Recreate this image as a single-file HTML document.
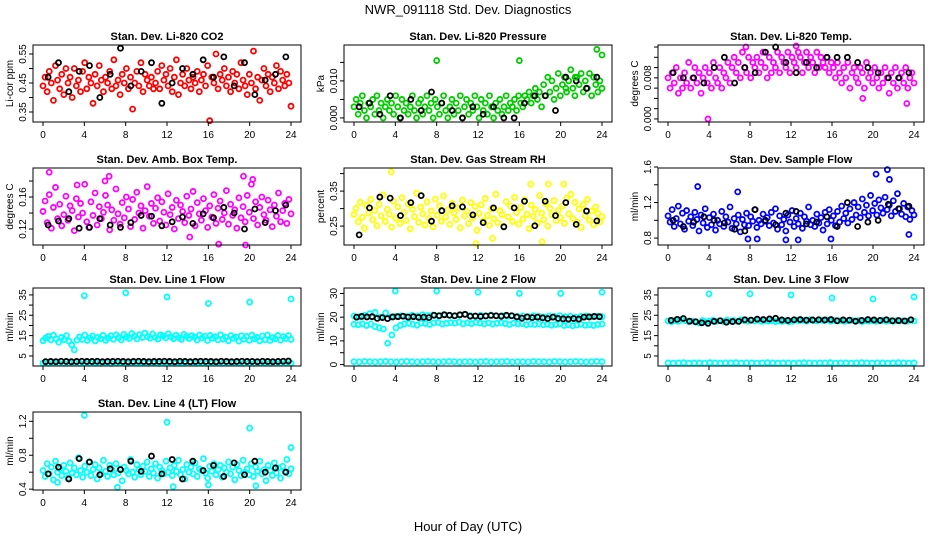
<!DOCTYPE html>
<html><head><meta charset="utf-8"><style>
body{margin:0;background:#fff}
svg{font-family:"Liberation Sans",sans-serif}
</style></head><body>
<svg id="c" width="936" height="540">
<text x="468" y="14" text-anchor="middle" font-size="13">NWR_091118  Std. Dev. Diagnostics</text>
<text x="468" y="531" text-anchor="middle" font-size="13">Hour of Day (UTC)</text>
</svg>
<script>
const xTicks=[0,4,8,12,16,20,24];
const co2=[0.44,0.47,0.42,0.49,0.45,0.39,0.51,0.46,0.43,0.48,0.41,0.50,0.45,0.47,0.40,0.50,0.44,0.46,0.42,0.49,
0.52,0.43,0.47,0.45,0.38,0.48,0.44,0.51,0.46,0.42,0.47,0.45,0.49,0.43,0.53,0.44,0.46,0.41,0.48,0.45,
0.50,0.43,0.47,0.36,0.45,0.49,0.44,0.52,0.42,0.48,0.46,0.44,0.47,0.43,0.45,0.49,0.43,0.51,0.46,0.48,
0.44,0.50,0.42,0.47,0.53,0.41,0.45,0.48,0.44,0.50,0.46,0.43,0.47,0.45,0.49,0.42,0.46,0.48,0.44,0.51,
0.32,0.47,0.45,0.55,0.43,0.48,0.46,0.50,0.44,0.47,0.42,0.49,0.45,0.48,0.43,0.52,0.46,0.44,0.41,0.48,
0.45,0.56,0.43,0.47,0.39,0.46,0.50,0.44,0.48,0.42,0.47,0.45,0.51,0.43,0.49,0.46,0.44,0.48,0.45,0.37];
const co2B=[0.47,0.52,0.42,0.49,0.51,0.40,0.48,0.57,0.44,0.49,0.52,0.38,0.45,0.50,0.48,0.53,0.47,0.54,0.44,0.52,0.41,0.46,0.48,0.54];
const pres=[0.003,0.005,0.001,0.004,0.006,0.002,0.000,0.004,0.003,0.005,0.001,0.006,0.002,0.004,0.000,0.003,0.005,0.002,0.004,0.001,
0.006,0.003,0.000,0.005,0.002,0.004,0.001,0.003,0.006,0.002,0.000,0.004,0.005,0.001,0.003,0.006,0.002,0.004,0.000,0.005,
0.003,0.001,0.004,0.006,0.002,0.000,0.003,0.005,0.001,0.004,0.002,0.006,0.000,0.003,0.005,0.001,0.004,0.002,0.006,0.003,
0.000,0.005,0.002,0.004,0.001,0.006,0.003,0.000,0.004,0.002,0.005,0.001,0.003,0.006,0.002,0.004,0.003,0.005,0.002,0.006,
0.004,0.003,0.006,0.005,0.007,0.004,0.006,0.008,0.005,0.007,0.003,0.009,0.006,0.011,0.007,0.010,0.005,0.008,0.012,0.006,
0.009,0.011,0.007,0.010,0.013,0.008,0.006,0.011,0.009,0.012,0.007,0.010,0.008,0.012,0.006,0.011,0.009,0.007,0.010,0.008];
const presB=[0.003,0.004,0.001,0.006,0.000,0.005,0.002,0.007,0.004,0.002,0.000,0.003,0.001,0.003,0.000,0.000,0.004,0.006,0.006,0.002,0.011,0.010,0.008,0.011];
const temp=[0.008,0.006,0.009,0.007,0.010,0.005,0.008,0.006,0.009,0.007,0.011,0.006,0.008,0.010,0.007,0.009,0.005,0.008,0.010,0.007,
0.009,0.006,0.011,0.008,0.007,0.010,0.006,0.009,0.008,0.011,0.007,0.010,0.012,0.009,0.011,0.008,0.013,0.010,0.009,0.012,
0.008,0.011,0.010,0.012,0.009,0.011,0.013,0.010,0.008,0.012,0.009,0.011,0.010,0.013,0.009,0.012,0.011,0.010,0.013,0.009,
0.012,0.011,0.010,0.013,0.012,0.009,0.011,0.013,0.010,0.012,0.011,0.009,0.013,0.010,0.012,0.011,0.010,0.012,0.009,0.011,
0.010,0.008,0.011,0.009,0.007,0.010,0.008,0.011,0.006,0.009,0.010,0.008,0.007,0.010,0.009,0.006,0.011,0.008,0.009,0.007,
0.010,0.008,0.006,0.009,0.007,0.010,0.008,0.005,0.009,0.007,0.010,0.006,0.008,0.009,0.007,0.010,0.006,0.008,0.009,0.007];
const tempB=[0.009,0.008,0.008,0.007,0.010,0.012,0.007,0.010,0.009,0.013,0.014,0.011,0.009,0.011,0.010,0.012,0.012,0.012,0.011,0.010,0.009,0.008,0.008,0.009];
const amb=[0.142,0.155,0.128,0.163,0.121,0.147,0.172,0.133,0.151,0.124,0.138,0.161,0.131,0.149,0.143,0.118,0.158,0.135,0.152,0.140,
0.176,0.129,0.122,0.154,0.137,0.165,0.125,0.148,0.133,0.141,0.162,0.150,0.119,0.144,0.131,0.170,0.139,0.126,0.153,0.134,
0.160,0.145,0.123,0.157,0.132,0.166,0.140,0.149,0.121,0.143,0.173,0.136,0.152,0.127,0.146,0.159,0.130,0.154,0.141,0.125,
0.164,0.138,0.147,0.120,0.156,0.133,0.150,0.142,0.128,0.161,0.137,0.145,0.167,0.124,0.153,0.139,0.131,0.158,0.143,0.122,
0.149,0.135,0.163,0.127,0.146,0.155,0.132,0.140,0.168,0.126,0.151,0.137,0.144,0.121,0.159,0.134,0.148,0.129,0.162,0.141,
0.176,0.133,0.154,0.125,0.147,0.160,0.138,0.131,0.156,0.144,0.123,0.150,0.136,0.165,0.129,0.143,0.152,0.127,0.157,0.139];
const ambB=[0.125,0.130,0.133,0.121,0.122,0.133,0.125,0.122,0.128,0.137,0.136,0.124,0.129,0.135,0.127,0.139,0.134,0.147,0.140,0.120,0.145,0.128,0.143,0.150];
const rh=[0.283,0.301,0.262,0.318,0.275,0.244,0.309,0.287,0.326,0.268,0.295,0.251,0.312,0.279,0.339,0.263,0.297,0.284,0.247,0.321,
0.273,0.305,0.258,0.331,0.289,0.266,0.313,0.242,0.298,0.277,0.344,0.261,0.304,0.285,0.253,0.319,0.272,0.293,0.248,0.327,
0.281,0.308,0.264,0.336,0.276,0.296,0.255,0.315,0.288,0.269,0.302,0.245,0.324,0.279,0.292,0.257,0.317,0.274,0.306,0.238,
0.286,0.311,0.265,0.329,0.280,0.252,0.299,0.271,0.341,0.260,0.294,0.283,0.249,0.320,0.276,0.307,0.263,0.332,0.289,0.256,
0.303,0.270,0.325,0.284,0.243,0.310,0.278,0.297,0.259,0.337,0.287,0.268,0.314,0.250,0.301,0.282,0.323,0.266,0.295,0.274,
0.308,0.258,0.330,0.285,0.341,0.272,0.318,0.262,0.299,0.246,0.312,0.280,0.326,0.267,0.293,0.254,0.305,0.286,0.262,0.277];
const rhB=[0.225,0.302,0.333,0.330,0.280,0.317,0.337,0.264,0.294,0.308,0.305,0.282,0.260,0.302,0.248,0.302,0.321,0.251,0.321,0.280,0.317,0.255,0.293,0.265];
const flow=[1.05,0.98,1.12,0.93,1.02,1.16,0.96,1.08,0.90,1.11,0.99,1.04,0.94,1.09,1.01,0.88,1.06,0.97,1.13,0.92,
1.03,0.95,1.07,0.89,1.00,0.96,1.10,0.93,1.04,0.98,1.15,0.91,1.02,0.96,1.06,0.87,1.01,0.95,1.08,0.94,
1.04,0.99,1.12,0.92,1.00,0.96,1.07,0.99,1.03,0.94,1.09,0.97,1.13,0.90,1.05,0.95,1.01,0.88,1.06,0.98,
1.11,0.93,1.02,0.96,1.08,0.91,1.04,0.99,1.15,0.95,1.00,0.93,1.07,0.97,1.03,0.89,1.09,0.96,1.12,1.00,
1.05,0.94,1.10,0.98,1.16,1.02,1.08,0.97,1.13,1.01,1.20,1.06,1.15,1.03,1.24,1.09,1.17,1.05,1.28,1.11,
1.19,1.06,1.23,1.14,1.08,1.26,1.12,1.17,1.05,1.22,1.10,1.30,1.13,1.07,1.19,1.04,1.15,1.01,1.11,1.06];
const flowB=[1.00,0.93,0.98,1.04,1.00,0.97,0.90,0.88,1.12,1.00,0.95,1.08,1.10,0.96,0.98,1.04,0.93,1.20,0.93,0.98,1.00,1.18,1.13,1.16];
const l1=[12.5,13.8,14.6,12.9,15.2,13.4,11.8,14.1,13.0,15.0,12.2,10.5,8.0,12.8,14.4,13.1,15.3,12.6,13.9,14.8,
12.4,14.2,13.5,15.1,12.7,13.8,14.9,13.2,15.4,14.0,12.9,15.6,14.3,13.6,16.0,14.7,13.4,15.5,14.1,16.2,
14.5,13.7,15.8,14.2,13.3,15.4,14.8,13.9,15.9,14.4,13.5,15.2,14.0,13.1,15.6,14.6,13.6,15.0,14.3,12.8,
15.3,13.9,14.7,12.6,15.1,13.8,14.5,12.9,15.4,13.3,14.2,12.5,15.0,13.7,14.4,12.3,14.9,13.2,14.6,12.7,
15.2,13.5,14.1,12.4,14.8,13.0,15.3,12.6,14.0,13.4,15.1,12.8,14.5,13.6,15.0,13.1];
const l1Lo=[1.5,1.4,1.6,1.5,1.3,1.5,1.6,1.4,1.5,1.5,1.6,1.4,1.5,1.3,1.5,1.6,1.4,1.5,1.5,1.6,1.4,1.5,1.3,1.5,
1.6,1.4,1.5,1.5,1.6,1.4,1.5,1.3,1.5,1.6,1.4,1.5,1.5,1.6,1.4,1.5,1.3,1.5,1.6,1.4,1.5,1.5,1.6,1.4];
const l1B=[2.2,2.3,2.2,2.4,2.3,2.2,2.3,2.4,2.3,2.3,2.4,2.2,2.3,2.3,2.4,2.3,2.2,2.3,2.4,2.3,2.2,2.3,2.3,2.4,
2.3,2.2,2.4,2.3,2.2,2.3,2.4,2.3,2.3,2.2,2.4,2.3,2.2,2.3,2.4,2.3,2.3,2.2,2.4,2.3,2.2,2.3,2.4,2.5];
const outHr=[4,8,12,16,20,24];
const l1Out=[34.6,36.0,34.0,30.8,31.5,33.0];
const l2A=[20.5,20.2,20.8,21.5,22.0,20.0,21.8,20.1,20.4,20.6,20.3,20.8,20.5,21.0,20.7,20.9,20.6,21.1,20.8,20.5,20.9,21.2,20.7,20.4,
20.8,20.6,20.9,20.5,20.7,20.4,20.6,20.3,20.5,20.2,20.6,20.4,20.1,20.5,20.3,20.6,20.2,20.4,20.0,20.3,20.5,20.1,20.4,20.2];
const l2C=[17.0,16.8,17.2,16.5,17.1,16.0,15.5,15.0,9.0,12.5,15.5,16.5,17.2,17.4,17.0,16.6,17.5,17.3,16.9,17.6,17.8,17.1,17.4,17.7,17.5,17.9,17.2,17.6,17.3,17.8,
17.5,17.2,17.6,17.1,17.4,17.7,17.3,16.9,17.5,17.2,17.3,16.8,17.1,16.9,17.2,16.8,17.0,16.6,16.9,17.2,16.5,16.8,16.4,16.7,17.0,16.6,16.8,16.5,16.9,17.1];
const l2Lo=[1.2,1.1,1.3,1.2,1.1,1.2,1.3,1.2,1.1,1.2,1.3,1.2,1.1,1.2,1.3,1.2,1.1,1.2,1.3,1.2,1.1,1.2,1.2,1.1,
1.2,1.3,1.1,1.2,1.2,1.3,1.1,1.2,1.2,1.1,1.3,1.2,1.2,1.1,1.3,1.2,1.1,1.2,1.3,1.2,1.1,1.2,1.3,1.2];
const l2B=[20.0,20.3,20.1,20.2,19.5,19.8,19.4,20.1,20.2,20.4,20.0,20.2,19.9,20.0,19.8,20.8,20.6,21.0,20.8,20.6,21.0,21.2,20.4,20.5,
20.3,20.5,20.7,20.6,20.4,20.8,20.6,20.1,19.6,20.1,19.8,20.0,19.7,19.4,20.0,19.5,19.3,19.2,19.4,19.2,20.0,20.1,20.3,20.2];
const l2Out=[31.0,31.0,30.5,30.0,30.0,30.5];
const l3=[22.2,21.8,22.4,22.0,23.0,22.3,21.9,22.1,21.6,21.2,22.4,21.8,22.2,22.5,22.0,22.3,21.9,22.6,22.2,22.4,22.0,22.7,22.3,22.1,
22.5,22.2,22.6,22.0,22.4,22.1,22.3,21.9,22.2,22.0,22.3,21.8,22.1,22.6,22.3,22.5,22.1,22.8,22.4,22.2,22.6,22.3,22.7,22.1,
22.5,22.2,22.4,22.0,22.3,22.5,22.1,22.4,21.9,22.3,22.1,22.4,22.0,22.2,22.5,22.1,22.3,22.0,22.4,22.2,22.3,22.1,22.5,22.2];
const l3Lo=[1.6,1.5,1.6,1.7,1.5,1.6,1.6,1.5,1.7,1.6,1.5,1.6,1.6,1.7,1.5,1.6,1.6,1.5,1.6,1.7,1.6,1.5,1.6,1.6,
1.5,1.6,1.7,1.6,1.5,1.6,1.6,1.7,1.5,1.6,1.6,1.5,1.6,1.7,1.6,1.5,1.6,1.6,1.5,1.6,1.7,1.6,1.5,1.6];
const l3B=[22.5,23.0,23.4,22.1,21.8,21.3,21.0,22.0,22.3,21.6,21.9,22.0,22.8,22.6,23.1,22.9,23.2,23.5,22.7,22.5,22.8,22.9,22.6,22.7,
22.8,22.7,22.9,22.3,22.7,22.6,22.1,22.5,22.9,22.7,22.5,22.8,22.3,22.4,22.2,22.8];
const l3Out=[35.5,35.5,35.0,33.5,33.0,34.0];
const l4=[0.62,0.55,0.70,0.58,0.66,0.51,0.73,0.60,0.64,0.56,0.68,0.61,0.53,0.71,0.59,0.65,0.57,0.77,0.62,0.54,
0.67,0.60,0.72,0.56,0.63,0.69,0.52,0.65,0.58,0.74,0.61,0.55,0.68,0.63,0.57,0.70,0.59,0.64,0.50,0.66,
0.62,0.58,0.75,0.60,0.54,0.69,0.63,0.57,0.67,0.61,0.72,0.55,0.64,0.59,0.70,0.53,0.66,0.62,0.58,0.73,
0.60,0.65,0.56,0.68,0.61,0.74,0.57,0.63,0.52,0.69,0.60,0.66,0.58,0.71,0.55,0.64,0.62,0.76,0.59,0.53,
0.67,0.61,0.70,0.57,0.63,0.68,0.54,0.65,0.60,0.72,0.58,0.66,0.51,0.69,0.62,0.56,0.74,0.60,0.64,0.57,
0.70,0.55,0.66,0.61,0.73,0.58,0.63,0.50,0.68,0.62,0.56,0.71,0.59,0.65,0.53,0.67,0.61,0.75,0.58,0.64];
const l4B=[0.58,0.66,0.52,0.76,0.72,0.57,0.64,0.63,0.73,0.61,0.79,0.58,0.75,0.52,0.73,0.62,0.68,0.55,0.71,0.57,0.73,0.60,0.65,0.60];
const l4OutHr=[4,12,20,24,7.2,12.6,20.6,16,1.4];
const l4Out=[1.27,1.19,1.12,0.89,0.42,0.43,0.44,0.45,0.48];

const cols=[[43,291],[354,602],[668,914]];
const rows=[[45,122],[168,245],[288,366],[412,490]];
const panels=[
 {t:"Stan. Dev. Li-820 CO2",yl:"Li-cor ppm",c:0,r:0,lo:0.3155,hi:0.581,ticks:[0.35,0.40,0.45,0.50,0.55],labs:["0.35","","0.45","","0.55"],s:[["red",co2],["black",co2B]]},
 {t:"Stan. Dev. Li-820 Pressure",yl:"kPa",c:1,r:0,lo:-0.0011,hi:0.0197,ticks:[0,0.005,0.010,0.015],labs:["0.000","","0.010",""],s:[["#0c0",pres],["black",presB]],o:[[8,16,23.5,24,20.5,21.4],[0.0155,0.0155,0.0185,0.0170,0.0080,0.0110],"#0c0"]},
 {t:"Stan. Dev. Li-820 Temp.",yl:"degrees C",c:2,r:0,lo:-0.0006,hi:0.0144,ticks:[0,0.002,0.004,0.006,0.008,0.010,0.012,0.014],labs:["0.000","","","","0.008","","",""],s:[["magenta",temp],["black",tempB]],o:[[3.9,19,23.3,7.6,12.5],[0.0,0.004,0.003,0.014,0.0142],"magenta"]},
 {t:"Stan. Dev. Amb. Box Temp.",yl:"degrees C",c:0,r:1,lo:0.100,hi:0.1963,ticks:[0.12,0.14,0.16,0.18],labs:["0.12","","0.16",""],s:[["magenta",amb],["black",ambB]],o:[[0.6,6.4,19.4,20.3,14.2,17,19.6,6,3.3],[0.191,0.186,0.186,0.182,0.11,0.101,0.10,0.18,0.175],"magenta"]},
 {t:"Stan. Dev. Gas Stream RH",yl:"percent",c:1,r:1,lo:0.196,hi:0.416,ticks:[0.25,0.30,0.35,0.40],labs:["0.25","","0.35",""],s:[["yellow",rh],["black",rhB]],o:[[3.6,17.1,18.8,20.3,11.8,18.2,13.4],[0.405,0.37,0.37,0.37,0.20,0.205,0.215],"yellow"]},
 {t:"Stan. Dev. Sample Flow",yl:"ml/min",c:2,r:1,lo:0.722,hi:1.589,ticks:[0.8,1.0,1.2,1.4,1.6],labs:["0.8","","1.2","","1.6"],s:[["blue",flow],["black",flowB]],o:[[2.9,6.8,20.3,21.4,21.6,23.5,7.8,8.7,11.5,12.7,15.9],[1.38,1.32,1.52,1.57,1.46,0.84,0.79,0.79,0.78,0.78,0.79],"blue"]},
 {t:"Stan. Dev. Line 1 Flow",yl:"ml/min",c:0,r:2,lo:0.07,hi:38.4,ticks:[5,10,15,20,25,30,35],labs:["5","","15","","25","","35"],s:[["cyan",l1],["cyan",l1Lo],["black",l1B]],o:[outHr,l1Out,"cyan"]},
 {t:"Stan. Dev. Line 2 Flow",yl:"ml/min",c:1,r:2,lo:-0.6,hi:32.3,ticks:[0,5,10,15,20,25,30],labs:["0","","10","","20","","30"],s:[["cyan",l2A],["cyan",l2C],["cyan",l2Lo],["black",l2B]],o:[outHr,l2Out,"cyan"]},
 {t:"Stan. Dev. Line 3 Flow",yl:"ml/min",c:2,r:2,lo:0.07,hi:38.4,ticks:[5,10,15,20,25,30,35],labs:["5","","15","","25","","35"],s:[["cyan",l3],["cyan",l3Lo],["black",l3B]],o:[outHr,l3Out,"cyan"]},
 {t:"Stan. Dev. Line 4 (LT) Flow",yl:"ml/min",c:0,r:3,lo:0.39,hi:1.31,ticks:[0.4,0.6,0.8,1.0,1.2],labs:["0.4","","0.8","","1.2"],s:[["cyan",l4],["black",l4B]],o:[l4OutHr,l4Out,"cyan"]}
];
const svg=document.getElementById('c');const NS="http://www.w3.org/2000/svg";
function mk(tag,at,p){const e=document.createElementNS(NS,tag);for(const k in at)e.setAttribute(k,at[k]);(p||svg).appendChild(e);return e;}
panels.forEach((P,pi)=>{
 const [x0,x1]=cols[P.c];const [yt,yb]=rows[P.r];
 const pad=10;const bl=x0-pad;
 const sx=h=>x0+(x1-x0)*h/24;
 const sy=v=>yb-(v-P.lo)/(P.hi-P.lo)*(yb-yt);
 const g=mk('g',{});
 
 
 const tt=mk('text',{x:(x0+x1)/2,y:yt-5,'text-anchor':'middle','font-size':11,'font-weight':'bold'},g);tt.textContent=P.t;
 
 
 const yl=mk('text',{x:0,y:0,transform:`translate(${bl-20},${(yt+yb)/2}) rotate(-90)`,'text-anchor':'middle','font-size':10},g);yl.textContent=P.yl;
 
 
 P.s.forEach(([col,vals])=>{
  const n=vals.length;
  vals.forEach((v,i)=>{
   const h=col==='black'?(i+0.5)*24/n:i*24/(n-1);
   const c=mk('circle',{cx:sx(h),cy:sy(v),r:2.5,fill:'none',stroke:col,'stroke-width':1.8},g);
   
   
  });
 });
 if(P.o){P.o[0].forEach((h,i)=>{const c=mk('circle',{cx:sx(h),cy:sy(P.o[1][i]),r:2.5,fill:'none',stroke:P.o[2],'stroke-width':1.8},g);
  
  });}
 const box=mk('rect',{x:bl,y:yt,width:x1-x0+2*pad,height:yb-yt,fill:'none',stroke:'#000','stroke-width':1},g);
 
 
 xTicks.forEach(h=>{mk('line',{x1:sx(h),x2:sx(h),y1:yb,y2:yb+4,stroke:'#000'},g);
  const t=mk('text',{x:sx(h),y:yb+16,'text-anchor':'middle','font-size':10},g);t.textContent=h;
  
  });
 P.ticks.forEach((v,i)=>{const y=sy(v);mk('line',{x1:bl-4,x2:bl,y1:y,y2:y,stroke:'#000'},g);
  if(P.labs[i]){const t=mk('text',{x:0,y:0,transform:`translate(${bl-7},${y}) rotate(-90)`,'text-anchor':'middle','font-size':10},g);t.textContent=P.labs[i];
  
  }});
});
</script>
</body></html>
